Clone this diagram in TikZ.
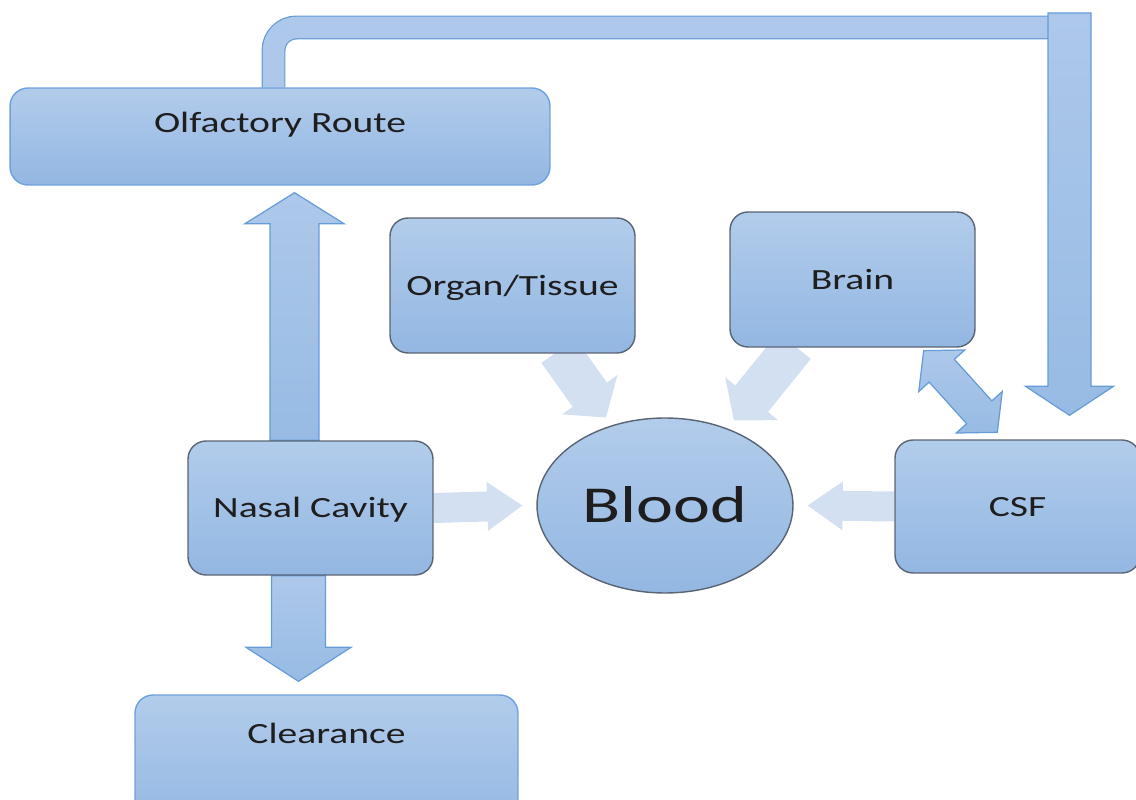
\documentclass[tikz,border=0pt]{standalone}
\usepackage{fontspec}
\setmainfont{Carlito}[FakeStretch=1.35]
\usetikzlibrary{shapes,arrows,positioning,calc,backgrounds}

\definecolor{boxtop}{HTML}{B2CCEB}
\definecolor{boxbot}{HTML}{93B7E2}
\definecolor{boxedge}{HTML}{5A6473}
\definecolor{routeedge}{HTML}{6EA0DC}
\definecolor{arrtop}{HTML}{ADC8EA}
\definecolor{arrbot}{HTML}{97BBE4}
\definecolor{arredge}{HTML}{659CD8}
\definecolor{faintfill}{HTML}{D3E0F2}
\definecolor{txt}{HTML}{1E1E1E}

% block arrow: style, from, to, shaft half width, head half width, head length
\newcommand{\blockarrow}[6]{%
  \coordinate (ba-h) at ($(#3)!#6!(#2)$);
  \path[#1] ($(#2)!#4!90:(#3)$) -- ($(ba-h)!#4!90:(#3)$) -- ($(ba-h)!#5!90:(#3)$) -- (#3)
    -- ($(ba-h)!#5!-90:(#3)$) -- ($(ba-h)!#4!-90:(#3)$) -- ($(#2)!#4!-90:(#3)$) -- cycle;}
% same, with a head at both ends
\newcommand{\dblockarrow}[6]{%
  \coordinate (da-a) at ($(#2)!#6!(#3)$);
  \coordinate (da-b) at ($(#3)!#6!(#2)$);
  \path[#1] (#2) -- ($(da-a)!#5!90:(#3)$) -- ($(da-a)!#4!90:(#3)$) -- ($(da-b)!#4!-90:(#2)$)
    -- ($(da-b)!#5!-90:(#2)$) -- (#3) -- ($(da-b)!#5!90:(#2)$) -- ($(da-b)!#4!90:(#2)$)
    -- ($(da-a)!#4!-90:(#3)$) -- ($(da-a)!#5!-90:(#3)$) -- cycle;}

\begin{document}
\begin{tikzpicture}[
    x=0.02cm, y=-0.02cm,
    box/.style={rectangle, rounded corners=0.36cm, draw=boxedge, line width=0.8pt,
      top color=boxtop, bottom color=boxbot, text=txt,
      minimum width=4.9cm, minimum height=2.7cm,
      text height=10.9pt, text depth=0pt, font=\fontsize{16.7}{20}\selectfont},
    route/.style={box, draw=routeedge},
    flow/.style={top color=arrtop, bottom color=arrbot, draw=arredge, line width=0.7pt},
    faint/.style={fill=faintfill},
    pipe/.style={draw=arredge, line width=0.7pt, double=arrtop, double distance=0.43cm,
      rounded corners=0.46cm}
]
    \useasboundingbox (0,0) rectangle (1136,800);

    \node[route, minimum width=10.8cm, minimum height=1.94cm, text depth=0.54cm] (olf) at (280,136.5) {Olfactory Route};
    \node[box] (organ) at (512.5,285.5) {Organ/Tissue};
    \node[box] (brain) at (852.5,279.5) {Brain};
    \node[box, minimum height=2.68cm] (nasal) at (310.5,508) {Nasal Cavity};
    \node[box, minimum height=2.66cm] (csf) at (1017.5,506.5) {CSF};
    \node[route, minimum width=7.66cm, text depth=1.14cm] (clear) at (326.5,762.5) {Clearance};
    \node[ellipse, draw=boxedge, line width=0.8pt, top color=boxtop, bottom color=boxbot,
      minimum width=5.12cm, minimum height=3.5cm, inner sep=0pt, text=txt,
      text height=19.2pt, text depth=0pt, font=\fontsize{29.5}{34}\selectfont] (blood) at (665,505.5) {Blood};

    \coordinate (up0) at ($(nasal.north)+(-16,0)$);
    \coordinate (up1) at ($(up0 |- olf.south)+(0,7)$);
    \coordinate (dn0) at ($(nasal.south)+(-12,0)$);
    \coordinate (dn1) at ($(dn0 |- clear.north)+(0,-13)$);
    \coordinate (og0) at ($(organ.south)+(46,-3)$);
    \coordinate (og1) at ($(blood.center)+(-59,-88)$);
    \coordinate (br0) at ($(brain.south)+(-58,-2)$);
    \coordinate (br1) at ($(blood.center)+(69,-85)$);
    \coordinate (na1) at ($(blood.west)+(-14,0)$);
    \coordinate (cs1) at ($(blood.east)+(14,0)$);
    \coordinate (bc0) at ($(brain.south east)+(-52,3)$);
    \coordinate (bc1) at ($(csf.north west)+(103,-7)$);
    \coordinate (olfpipe) at ($(olf.north)+(-6.5,0)$);
    \coordinate (pipe1) at (1069.5,13);
    \coordinate (pipe2) at ($(pipe1 |- csf.north)+(0,-24)$);

    \begin{scope}[on background layer]
        % faint arrows into blood
        \blockarrow{faint}{og0}{og1}{0.42cm}{0.68cm}{0.56cm}
        \blockarrow{faint}{br0}{br1}{0.42cm}{0.68cm}{0.56cm}
        \blockarrow{faint}{nasal.east}{na1}{0.3cm}{0.49cm}{0.7cm}
        \blockarrow{faint}{csf.west}{cs1}{0.3cm}{0.49cm}{0.7cm}

        % olfactory route over the top
        \draw[pipe] (olfpipe) |- ($(pipe1)+(0,14.5)$);
        \blockarrow{flow}{pipe1}{pipe2}{0.43cm}{0.88cm}{0.58cm}

        \blockarrow{flow}{up0}{up1}{0.49cm}{0.99cm}{0.62cm}
        \blockarrow{flow}{dn0}{dn1}{0.54cm}{1.05cm}{0.68cm}
        \dblockarrow{flow}{bc0}{bc1}{0.34cm}{0.62cm}{0.54cm}
    \end{scope}
\end{tikzpicture}
\end{document}
